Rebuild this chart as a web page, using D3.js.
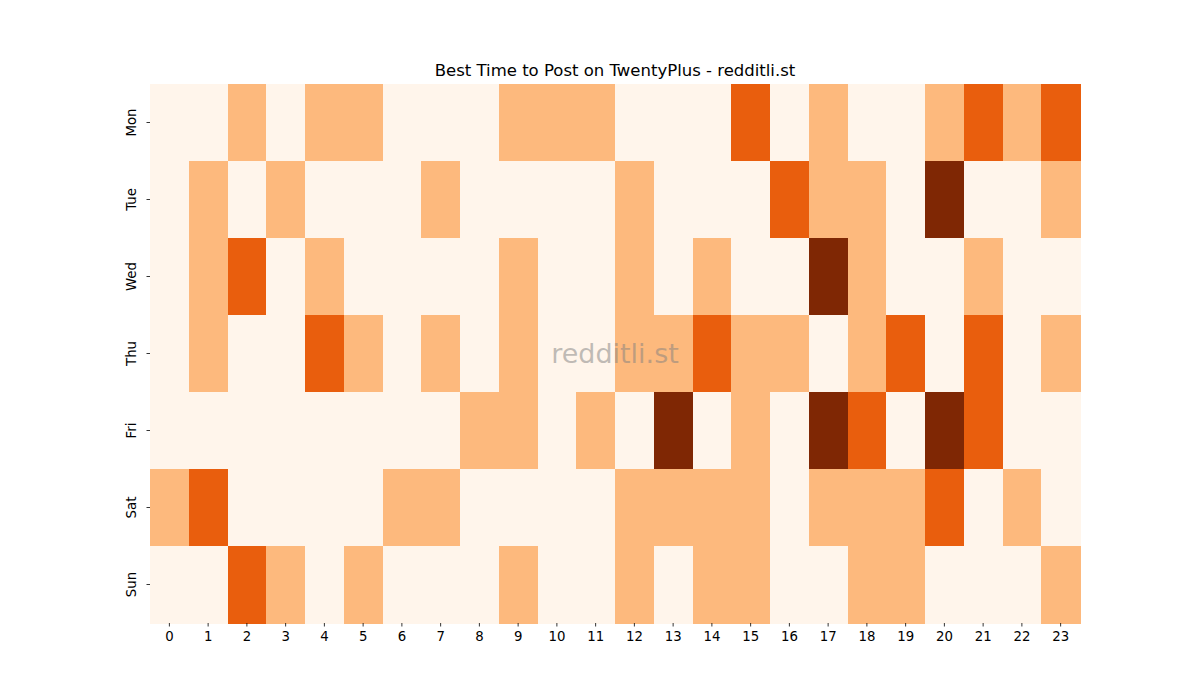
<!DOCTYPE html>
<html lang="en">
<head>
    <meta charset="utf-8"/>
    <title>Best Time to Post on TwentyPlus</title>
    <script src="https://d3js.org/d3.v7.min.js"></script>
    <style>
        body { margin: 0; background: #fff; }
        svg { font-family: "DejaVu Sans", sans-serif; }
    </style>
</head>
<body>
<svg id="chart" width="1200" height="700"></svg>

<script>
    // dias y horas
    const days = ["Mon", "Tue", "Wed", "Thu", "Fri", "Sat", "Sun"];
    const hours = d3.range(24);

    // nivel de actividad por hora (0 a 3), una fila por dia
    const mon = [0, 0, 1, 0, 1, 1, 0, 0, 0, 1, 1, 1, 0, 0, 0, 2, 0, 1, 0, 0, 1, 2, 1, 2];
    const tue = [0, 1, 0, 1, 0, 0, 0, 1, 0, 0, 0, 0, 1, 0, 0, 0, 2, 1, 1, 0, 3, 0, 0, 1];
    const wed = [0, 1, 2, 0, 1, 0, 0, 0, 0, 1, 0, 0, 1, 0, 1, 0, 0, 3, 1, 0, 0, 1, 0, 0];
    const thu = [0, 1, 0, 0, 2, 1, 0, 1, 0, 1, 0, 0, 1, 1, 2, 1, 1, 0, 1, 2, 0, 2, 0, 1];
    const fri = [0, 0, 0, 0, 0, 0, 0, 0, 1, 1, 0, 1, 0, 3, 0, 1, 0, 3, 2, 0, 3, 2, 0, 0];
    const sat = [1, 2, 0, 0, 0, 0, 1, 1, 0, 0, 0, 0, 1, 1, 1, 1, 0, 1, 1, 1, 2, 0, 1, 0];
    const sun = [0, 0, 2, 1, 0, 1, 0, 0, 0, 1, 0, 0, 1, 0, 1, 1, 0, 0, 1, 1, 0, 0, 0, 1];
    const values = [mon, tue, wed, thu, fri, sat, sun];

    const colors = ["#fff5eb", "#fdb97d", "#e95e0d", "#7f2704"];

    const margin = {top: 84, right: 120, bottom: 77, left: 150};
    const width = 1200 - margin.left - margin.right;
    const height = 700 - margin.top - margin.bottom;

    const svg = d3.select("#chart");
    const g = svg.append("g").attr("transform", `translate(${margin.left},${margin.top})`);

    const x = d3.scaleBand().domain(hours).range([0, width]);
    const y = d3.scaleBand().domain(days).range([0, height]);
    const color = d3.scaleOrdinal().domain([0, 1, 2, 3]).range(colors);

    // celdas
    const cells = [];
    values.forEach((row, i) => row.forEach((v, h) => cells.push({day: days[i], hour: h, v: v})));

    g.selectAll("rect")
        .data(cells).enter()
        .append("rect")
        .attr("x", d => x(d.hour))
        .attr("y", d => y(d.day))
        .attr("width", x.bandwidth() + 0.6)
        .attr("height", y.bandwidth() + 0.6)
        .attr("shape-rendering", "crispEdges")
        .attr("fill", d => color(d.v));

    // ejes
    const xAxis = g.append("g")
        .attr("transform", `translate(0,${height})`)
        .call(d3.axisBottom(x).tickSize(3.5).tickPadding(5));
    const yAxis = g.append("g")
        .call(d3.axisLeft(y).tickSize(3.5).tickPadding(5));

    [xAxis, yAxis].forEach(a => {
        a.select(".domain").remove();
        a.selectAll("line").attr("stroke", "#000").attr("stroke-width", 0.8);
        a.selectAll("text")
            .attr("fill", "#000")
            .style("font-size", "13.3px")
            .style("font-family", "DejaVu Sans, sans-serif");
    });

    // etiquetas del eje y rotadas
    yAxis.selectAll("text")
        .attr("text-anchor", "middle")
        .attr("dy", "0.35em")
        .attr("x", 0).attr("y", 0)
        .attr("transform", "translate(-18.5,0) rotate(-90)");

    // titulo
    svg.append("text")
        .attr("x", margin.left + width / 2)
        .attr("y", 76)
        .attr("text-anchor", "middle")
        .style("font-size", "16.5px")
        .text("Best Time to Post on TwentyPlus - redditli.st");

    // marca de agua
    svg.append("text")
        .attr("x", margin.left + width / 2)
        .attr("y", margin.top + height / 2 + 9)
        .attr("text-anchor", "middle")
        .style("font-size", "27px")
        .attr("fill", "#808080")
        .attr("fill-opacity", 0.5)
        .text("redditli.st");
</script>
</body>
</html>
